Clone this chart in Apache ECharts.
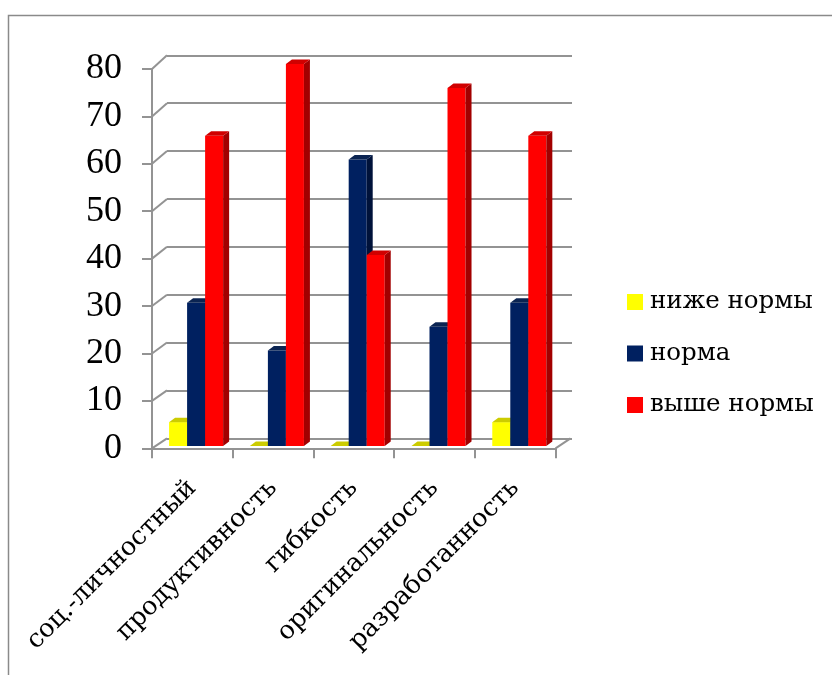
<!DOCTYPE html>
<html>
<head>
<meta charset="utf-8">
<script src="https://cdn.jsdelivr.net/npm/echarts@6/dist/echarts.min.js"></script>
<style>
  html, body { margin: 0; padding: 0; background: #fff; }
  #chart { width: 832px; height: 675px; }
</style>
</head>
<body>
<div id="chart"></div>
<script>
// Data
const categories = ['соц.-личностный', 'продуктивность', 'гибкость', 'оригинальность', 'разработанность'];
const seriesNames = ['ниже нормы', 'норма', 'выше нормы'];
const belowNorm = [5, 0, 0, 0, 5];
const norm = [30, 20, 60, 25, 30];
const aboveNorm = [65, 80, 40, 75, 65];
const yMin = 0, yMax = 80, yStep = 10;
const yTicks = [0, 10, 20, 30, 40, 50, 60, 70, 80];

// Face colours for each series: front, side, top
const palette = [
  { front: '#FFFF00', side: '#BDBD00', top: '#CCCC00' },
  { front: '#002060', side: '#00123A', top: '#0B2452' },
  { front: '#FF0000', side: '#A20000', top: '#D00000' }
];

const FONT = '"Liberation Serif", serif';
const TEXT_FONT = '"DejaVu Serif", serif';
const GRID_LINE = '#939393';

// Pseudo-3D geometry (pixels)
const WALL_DX = 15;          // depth shift to back wall
const WALL_DY0 = -10;        // vertical shift at the floor
const WALL_DY1 = -13.7;      // vertical shift at the top of the axis
const BAR_DX = 6, BAR_DY = -4.5; // bar depth
const BAR_FRAC = 0.223;      // bar width as fraction of band

const front = { left: 152, top: 69, width: 403.5, height: 379.3 };
const back = { left: front.left + WALL_DX, top: front.top + WALL_DY1, width: 405, height: front.height + (WALL_DY0 - WALL_DY1) };
const barPlane = { left: 155.7, top: 64, width: 404, height: 382 };

const chart = echarts.init(document.getElementById('chart'), null, { renderer: 'canvas' });

function barRenderer(sIdx) {
  return function (params, api) {
    const i = api.value(0);
    const v = api.value(1);
    const top = api.coord([i, v]);
    const base = api.coord([i, 0]);
    const band = api.size([1, 0])[0];
    const w = band * BAR_FRAC;
    const x = top[0] + (sIdx - 1.5) * w;
    const yT = top[1], yB = base[1];
    const c = palette[sIdx];
    const children = [];
    if (yB - yT > 0.5) {
      children.push({ type: 'rect', shape: { x: x, y: yT, width: w, height: yB - yT }, style: { fill: c.front } });
      children.push({ type: 'polygon', shape: { points: [[x + w, yT], [x + w + BAR_DX, yT + BAR_DY], [x + w + BAR_DX, yB + BAR_DY], [x + w, yB]] }, style: { fill: c.side } });
    }
    children.push({ type: 'polygon', shape: { points: [[x, yT], [x + w, yT], [x + w + BAR_DX, yT + BAR_DY], [x + BAR_DX, yT + BAR_DY]] }, style: { fill: c.top } });
    return { type: 'group', children: children };
  };
}

function seriesData(arr) { return arr.map((v, i) => [i, v]); }

const option = {
  animation: false,
  backgroundColor: '#fff',
  graphic: [{
    type: 'rect', left: 6, top: 13, shape: { width: 900, height: 800 },
    style: { fill: 'none', stroke: '#8a8a8a', lineWidth: 1.5 }, silent: true, z: -10
  }],
  legend: {
    data: seriesNames,
    orient: 'vertical',
    left: 622, top: 284,
    icon: 'rect',
    itemWidth: 16, itemHeight: 16, itemGap: 25.5,
    textStyle: { fontFamily: TEXT_FONT, fontSize: 24.5, color: '#000', lineHeight: 26, padding: [0, 0, 0, 2] },
    selectedMode: false
  },
  grid: [
    Object.assign({ containLabel: false }, front),
    Object.assign({ containLabel: false }, back),
    Object.assign({ containLabel: false }, barPlane)
  ],
  xAxis: [
    {
      gridIndex: 0, type: 'category', data: categories, boundaryGap: true,
      axisLine: { lineStyle: { color: GRID_LINE, width: 2 } },
      axisTick: { show: true, length: 10, lineStyle: { color: GRID_LINE, width: 2 } },
      axisLabel: { rotate: 45, margin: 36, fontFamily: TEXT_FONT, fontSize: 25.5, color: '#000', interval: 0 },
      splitLine: { show: false }
    },
    { gridIndex: 1, type: 'category', data: categories, show: false },
    { gridIndex: 2, type: 'category', data: categories, show: false }
  ],
  yAxis: [
    {
      gridIndex: 0, type: 'value', min: yMin, max: yMax, interval: yStep,
      axisLine: { show: true, lineStyle: { color: GRID_LINE, width: 2 } },
      axisTick: { show: true, length: 10, lineStyle: { color: GRID_LINE, width: 2 } },
      axisLabel: { margin: 30, fontFamily: FONT, fontSize: 36, color: '#000' },
      splitLine: { show: false }
    },
    {
      gridIndex: 1, type: 'value', min: yMin, max: yMax, interval: yStep,
      axisLine: { show: false }, axisTick: { show: false }, axisLabel: { show: false },
      splitLine: { show: true, lineStyle: { color: GRID_LINE, width: 2 } }
    },
    { gridIndex: 2, type: 'value', min: yMin, max: yMax, interval: yStep, show: false, splitLine: { show: false } }
  ],
  series: [
    {
      // connectors from the front axis to the back wall, plus the floor's right edge
      type: 'custom', xAxisIndex: 0, yAxisIndex: 0, silent: true, z: 1,
      data: yTicks.map(v => [0, v]),
      renderItem: function (params, api) {
        const v = api.value(1);
        const p = api.coord([0, v]);
        const band = api.size([1, 0])[0];
        const y0 = api.coord([0, yMin])[1];
        const y1 = api.coord([0, yMax])[1];
        const t = (p[1] - y0) / (y1 - y0);
        const dy = WALL_DY0 + (WALL_DY1 - WALL_DY0) * t;
        const xL = p[0] - band / 2;
        const children = [{
          type: 'line', shape: { x1: xL, y1: p[1], x2: xL + WALL_DX, y2: p[1] + dy },
          style: { stroke: GRID_LINE, lineWidth: 2 }
        }];
        if (v === yMin) {
          const xR = api.coord([categories.length - 1, v])[0] + band / 2;
          children.push({
            type: 'line', shape: { x1: xR, y1: p[1], x2: xR + WALL_DX, y2: p[1] + dy },
            style: { stroke: GRID_LINE, lineWidth: 2 }
          });
        }
        return { type: 'group', children: children };
      }
    },
    {
      name: seriesNames[0], type: 'custom', xAxisIndex: 2, yAxisIndex: 2, z: 3,
      itemStyle: { color: palette[0].front },
      data: seriesData(belowNorm), renderItem: barRenderer(0)
    },
    {
      name: seriesNames[1], type: 'custom', xAxisIndex: 2, yAxisIndex: 2, z: 4,
      itemStyle: { color: palette[1].front },
      data: seriesData(norm), renderItem: barRenderer(1)
    },
    {
      name: seriesNames[2], type: 'custom', xAxisIndex: 2, yAxisIndex: 2, z: 5,
      itemStyle: { color: palette[2].front },
      data: seriesData(aboveNorm), renderItem: barRenderer(2)
    }
  ]
};

chart.setOption(option);
</script>
</body>
</html>
